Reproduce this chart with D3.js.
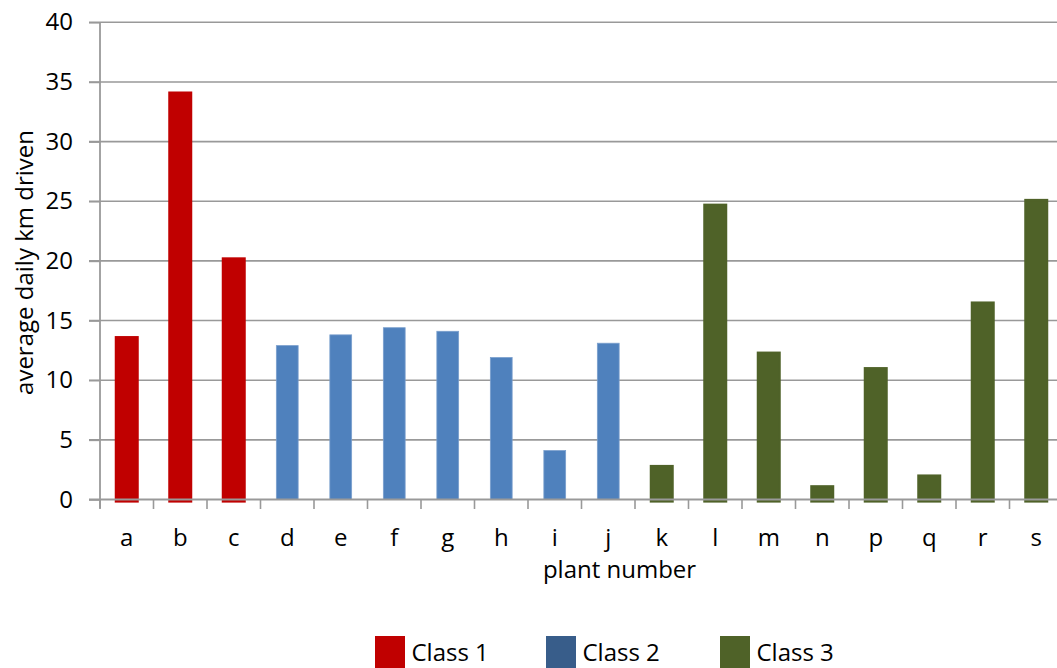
<!DOCTYPE html>
<html>
<head>
<meta charset="utf-8">
<script src="https://cdn.jsdelivr.net/npm/d3@7"></script>
<style>
  html, body { margin: 0; padding: 0; background: #fff; }
  svg { display: block; }
  text { font-family: "Open Sans", "Liberation Sans", sans-serif; fill: #000; }
</style>
</head>
<body>
<svg id="chart" width="1057" height="668"></svg>
<script>
// Plants and their class membership
const plants = ["a","b","c","d","e","f","g","h","i","j","k","l","m","n","p","q","r","s"];
const plantClass = [1,1,1,2,2,2,2,2,2,2,3,3,3,3,3,3,3,3];
// Average daily km driven per plant
const kmDriven = [13.7,34.2,20.3,12.9,13.8,14.4,14.1,11.9,4.1,13.1,2.9,24.8,12.4,1.2,11.1,2.1,16.6,25.2];
const yTicks = [0,5,10,15,20,25,30,35,40];
const classNames = ["Class 1","Class 2","Class 3"];

const classFill = {1: "#C00000", 2: "#4F81BD", 3: "#4F6228"};
const classStroke = {1: "#C00000", 2: "#7A9FCD", 3: "#4F6228"};
const legendFill = ["#C00000", "#385D8A", "#4F6228"];

const svg = d3.select("#chart");
const plotLeft = 100, plotRight = 1063, plotTop = 22.3, plotBottom = 499.5;
const fontSize = 24;

const x = d3.scaleBand().domain(plants).range([plotLeft, plotRight]);
const y = d3.scaleLinear().domain([0, 40]).range([plotBottom, plotTop]);

const gridColor = "#999999";

// Horizontal gridlines (extend left to form the y-axis ticks)
svg.append("g")
  .selectAll("line")
  .data(yTicks.filter(d => d !== 0))
  .join("line")
  .attr("x1", plotLeft - 11).attr("x2", plotRight)
  .attr("y1", d => y(d)).attr("y2", d => y(d))
  .attr("stroke", gridColor).attr("stroke-width", 1.6);

// Bars
const rows = plants.map((p, i) => ({ plant: p, cls: plantClass[i], value: kmDriven[i] }));
const barW = 21.8;
const overhang = 2;
svg.append("g")
  .selectAll("rect")
  .data(rows)
  .join("rect")
  .attr("x", d => x(d.plant) + x.bandwidth() / 2 - barW / 2)
  .attr("width", barW)
  .attr("y", d => y(d.value) + (d.cls === 2 ? 0 : 1.1))
  .attr("height", d => y(0) - y(d.value) - (d.cls === 2 ? 0 : 1.1) + (d.cls === 2 ? 0 : overhang))
  .attr("fill", d => classFill[d.cls])
  .attr("stroke", d => classStroke[d.cls])
  .attr("stroke-width", d => d.cls === 2 ? 0.8 : 2.2);

// Y axis
const yAxis = d3.axisLeft(y).tickValues(yTicks).tickSize(11).tickPadding(16);
const gy = svg.append("g").attr("transform", `translate(${plotLeft},0)`).call(yAxis);
gy.select(".domain").attr("stroke", gridColor).attr("stroke-width", 1.8)
  .attr("d", `M0,${plotBottom + 9}V${plotTop}`);
gy.selectAll(".tick line").attr("stroke", gridColor).attr("stroke-width", 1.6);
gy.selectAll(".tick text").attr("font-size", fontSize).attr("font-family", "Open Sans").attr("fill", "#000");

// X axis with ticks between categories
const gx = svg.append("g");
gx.append("line")
  .attr("x1", plotLeft - 11).attr("x2", plotRight)
  .attr("y1", y(0)).attr("y2", y(0))
  .attr("stroke", gridColor).attr("stroke-width", 1.8);
const boundaries = plants.map(p => x(p)).concat([x.range()[1]]);
gx.selectAll("line.b")
  .data(boundaries)
  .join("line")
  .attr("class", "b")
  .attr("x1", d => d).attr("x2", d => d)
  .attr("y1", y(0)).attr("y2", y(0) + 9.5)
  .attr("stroke", gridColor).attr("stroke-width", 1.6);
gx.selectAll("text")
  .data(plants)
  .join("text")
  .attr("x", d => x(d) + x.bandwidth() / 2)
  .attr("y", 546)
  .attr("text-anchor", "middle")
  .attr("font-size", fontSize)
  .text(d => d);

// Axis titles
svg.append("text")
  .attr("x", 619.5).attr("y", 578)
  .attr("text-anchor", "middle")
  .attr("font-size", fontSize)
  .text("plant number");
svg.append("text")
  .attr("transform", "translate(33,262.5) rotate(-90)")
  .attr("text-anchor", "middle")
  .attr("font-size", fontSize)
  .text("average daily km driven");

// Legend
const legend = svg.append("g");
const legendX = [375, 546, 720];
classNames.forEach((name, i) => {
  legend.append("rect")
    .attr("x", legendX[i]).attr("y", 636)
    .attr("width", 30).attr("height", 32)
    .attr("fill", legendFill[i]);
  legend.append("text")
    .attr("x", legendX[i] + 36.5).attr("y", 661)
    .attr("font-size", fontSize)
    .text(name);
});
</script>
</body>
</html>
